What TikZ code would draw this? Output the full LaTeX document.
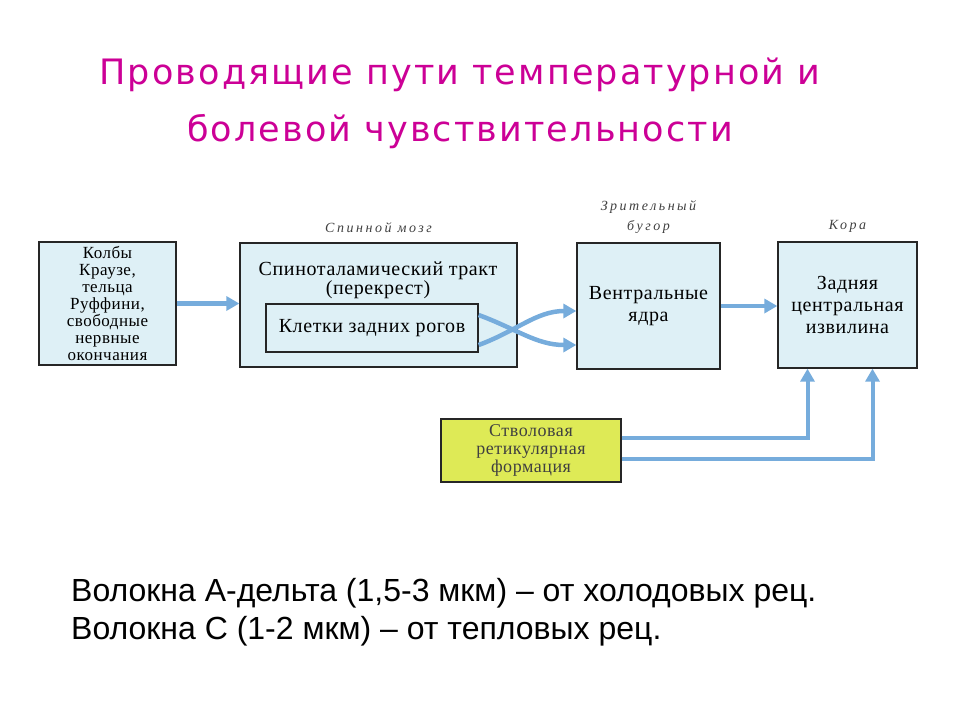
\documentclass[tikz,border=0pt]{standalone}
\usepackage{fontspec}
\setmainfont{Liberation Serif}[LetterSpace=3]
\newfontfamily\titlefont{DejaVu Sans}[LetterSpace=6]
\newfontfamily\notefont{Liberation Sans}
\newfontfamily\regionfont{Liberation Serif}[LetterSpace=18]
\usetikzlibrary{arrows.meta,positioning}
\definecolor{boxblue}{RGB}{222,240,246}
\definecolor{fiberblue}{RGB}{118,172,220}
\definecolor{retyellow}{RGB}{222,234,86}
\definecolor{titlepink}{RGB}{204,0,150}
\tikzstyle{block}=[draw=black!85,line width=1.3pt,fill=boxblue,inner sep=0pt,align=center,font=\fontsize{20}{22}\selectfont]
\tikzstyle{region}=[inner sep=0pt,align=center,text=black!75,font=\regionfont\fontsize{14}{20}\selectfont\itshape]
\tikzstyle{fiber}=[draw=fiberblue,line width=4.5pt,-{Triangle[length=13pt,width=14pt]}]

\begin{document}
\begin{tikzpicture}[x=1pt,y=-1pt]
    \useasboundingbox (0,0) rectangle (960,720);
    % Title and the note below
    \node[text=titlepink,align=center,font=\titlefont\fontsize{35}{57}\selectfont] (title) at (460,103)
        {Проводящие пути температурной и\\болевой чувствительности};
    \node[anchor=north west,align=left,inner sep=0pt,font=\notefont\fontsize{32}{38}\selectfont] (note) at (71,578)
        {Волокна А-дельта (1,5-3 мкм) – от холодовых рец.\\Волокна С (1-2 мкм) – от тепловых рец.};
    % First we draw the boxes
    \node[block,minimum width=137pt,minimum height=123pt,font=\fontsize{17}{17}\selectfont] (receptors) at (107.5,303.5)
        {Колбы\\Краузе,\\тельца\\Руффини,\\свободные\\нервные\\окончания};
    \node[block,minimum width=277pt,minimum height=124pt] (spinal) at (378.5,305) {};
    \node[align=center,inner sep=0pt,font=\fontsize{20}{19}\selectfont] (spinaltext) at (378,280)
        {Спиноталамический тракт\\(перекрест)};
    \node[block,minimum width=212pt,minimum height=48pt] (kletki) at (372,328) {Клетки задних рогов};
    \node[block,minimum width=143pt,minimum height=126pt] (ventral) at (648.5,306) {Вентральные\\ядра};
    \node[block,minimum width=139pt,minimum height=126pt] (cortex) at (847.5,305) {Задняя\\центральная\\извилина};
    \node[block,fill=retyellow,text=black!75,minimum width=180pt,minimum height=63pt,font=\fontsize{18}{18}\selectfont] (reticular) at (531,450.5)
        {Стволовая\\ретикулярная\\формация};
    % Region names above the boxes
    \node[region,above=9pt of spinal] (spinalname) {Спинной мозг};
    \node[region,above=9pt of ventral] (ventralname) {Зрительный\\бугор};
    \node[region,above=9pt of cortex] (cortexname) {Кора};
    % Connect boxes with fibers
    \draw[fiber] (receptors.east) -- (receptors.east -| spinal.west);
    \draw[fiber] ([yshift=13pt]kletki.east) .. controls +(38,14) and +(-40,0) .. ([yshift=-39pt]ventral.west);
    \draw[fiber] ([yshift=-17pt]kletki.east) .. controls +(38,-14) and +(-40,0) .. ([yshift=-5pt]ventral.west);
    \draw[fiber] (ventral.east) -- (ventral.east -| cortex.west);
    \draw[fiber,line width=4pt] ([yshift=13pt]reticular.east) -| ([xshift=-40pt]cortex.south);
    \draw[fiber,line width=4pt] ([yshift=-8pt]reticular.east) -| ([xshift=25pt]cortex.south);
\end{tikzpicture}
\end{document}
